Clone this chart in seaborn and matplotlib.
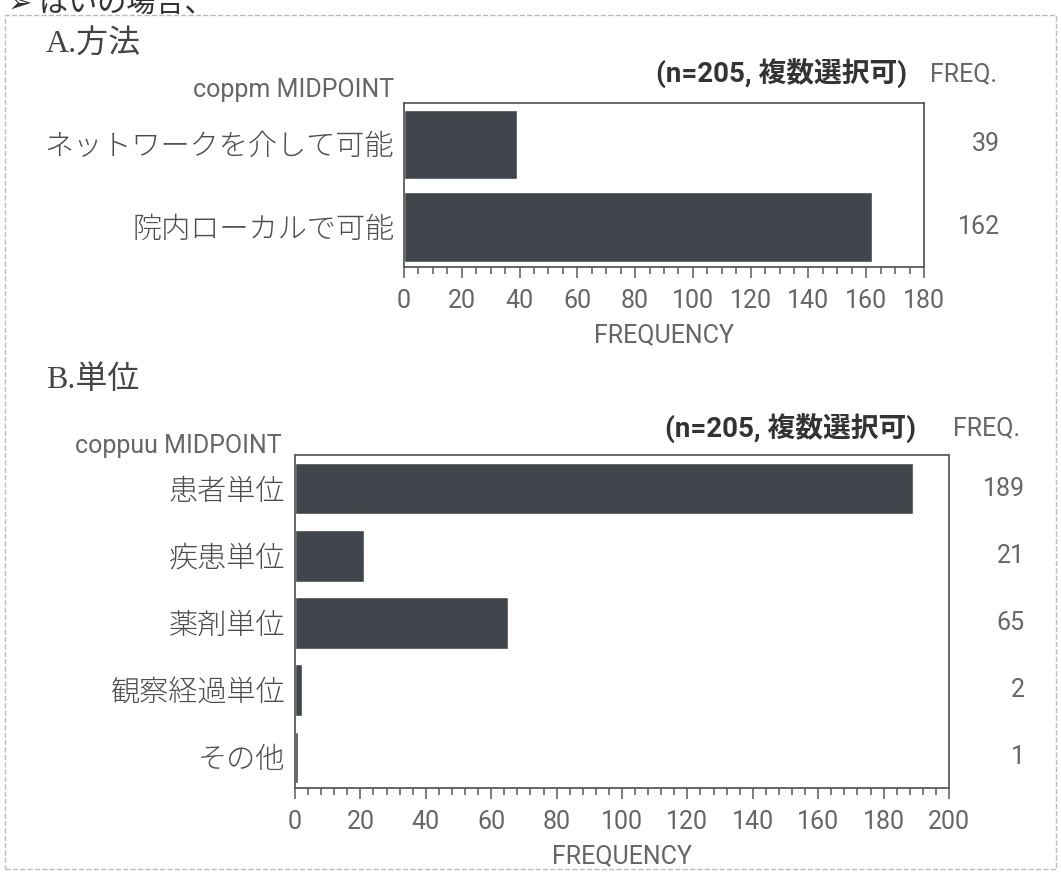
import matplotlib
matplotlib.use("Agg")
import matplotlib.pyplot as plt
import matplotlib.transforms as mtransforms
from matplotlib.patches import Rectangle
from matplotlib.ticker import MultipleLocator
import seaborn as sns
import pandas as pd

# データ
houhou_cats = ["ネットワークを介して可能", "院内ローカルで可能"]
houhou_freq = [39, 162]
tani_cats = ["患者単位", "疾患単位", "薬剤単位", "観察経過単位", "その他"]
tani_freq = [189, 21, 65, 2, 1]
houhou_ticks = list(range(0, 181, 20))
tani_ticks = list(range(0, 201, 20))

BAR = "#41464c"
TXT = "#666666"
CAT = "#4d4d4d"
LINE = "#5a5a5a"
DARK = "#333333"

sns.set_theme(style="white")
plt.rcParams['font.family'] = ['Roboto', 'Noto Sans CJK JP', 'DejaVu Sans']

W, H = 1061, 873
fig = plt.figure(figsize=(W / 100, H / 100), dpi=100)


def box(x0, y0, x1, y1):
    return [x0 / W, 1 - y1 / H, (x1 - x0) / W, (y1 - y0) / H]


def px(x, y):
    return x / W, 1 - y / H


def draw(ax, cats, freq, ticks, minor, width, ylim, freq_x):
    df = pd.DataFrame({"cat": cats, "freq": freq})
    sns.barplot(data=df, x="freq", y="cat", color=BAR, saturation=1,
                width=width, orient="h", ax=ax)
    ax.set_xlim(0, ticks[-1])
    ax.set_ylim(*ylim)
    ax.set_xticks(ticks)
    ax.xaxis.set_minor_locator(MultipleLocator(minor))
    ax.set_ylabel("")
    ax.set_xlabel("FREQUENCY", fontsize=18, color=TXT, labelpad=7)
    for s in ax.spines.values():
        s.set_color(LINE)
        s.set_linewidth(1.3)
    ax.tick_params(axis="x", which="both", bottom=True, direction="out",
                   color=LINE, width=1.1)
    ax.tick_params(axis="x", which="major", length=8, labelsize=18,
                   labelcolor=TXT, pad=8)
    ax.tick_params(axis="x", which="minor", length=5)
    ax.tick_params(axis="y", left=False, length=0, pad=7, labelsize=21,
                   labelcolor=CAT)
    for lbl in ax.get_yticklabels():
        lbl.set_fontweight("light")
    trans = mtransforms.blended_transform_factory(ax.transAxes, ax.transData)
    for i, v in enumerate(freq):
        ax.text(freq_x, i, str(v), transform=trans, ha="right", va="center",
                fontsize=18, color=TXT)


ax1 = fig.add_axes(box(404, 103, 924, 267))
draw(ax1, houhou_cats, houhou_freq, houhou_ticks, 5, 0.84, (1.485, -0.5),
     (1000 - 404) / 520)

ax2 = fig.add_axes(box(295, 455, 949, 788))
draw(ax2, tani_cats, tani_freq, tani_ticks, 4, 0.77, (4.455, -0.5),
     (1025 - 295) / 654)

# 見出しなど
fig.text(*px(8, 12), "➢ はいの場合、", fontsize=21, color=DARK,
         family=['Noto Sans CJK JP', 'DejaVu Sans'], fontweight="normal",
         va="baseline")
fig.text(*px(46, 44), "A.方法", fontsize=23, color="#444444",
         family=['Liberation Serif', 'Noto Sans CJK JP'], va="center")
fig.text(*px(46, 380), "B.単位", fontsize=23, color="#444444",
         family=['Liberation Serif', 'Noto Sans CJK JP'], va="center")

fig.text(*px(394, 90), "coppm MIDPOINT", fontsize=18, color=TXT,
         ha="right", va="center")
fig.text(*px(282, 446), "coppuu MIDPOINT", fontsize=18, color=TXT,
         ha="right", va="center")

fig.text(*px(907, 74), "(n=205, 複数選択可)", fontsize=20, color=DARK,
         fontweight="bold", ha="right", va="center")
fig.text(*px(916, 429), "(n=205, 複数選択可)", fontsize=20, color=DARK,
         fontweight="bold", ha="right", va="center")

fig.text(*px(930, 74), "FREQ.", fontsize=18, color=TXT, va="center")
fig.text(*px(953, 428), "FREQ.", fontsize=18, color=TXT, va="center")

# 点線の枠
fig.patches.append(Rectangle(px(5, 869), (1056 - 5) / W, (869 - 15) / H,
                             transform=fig.transFigure, fill=False,
                             edgecolor="#bbbbbb", linestyle="--", linewidth=1))

fig.savefig("out.png", dpi=100)
